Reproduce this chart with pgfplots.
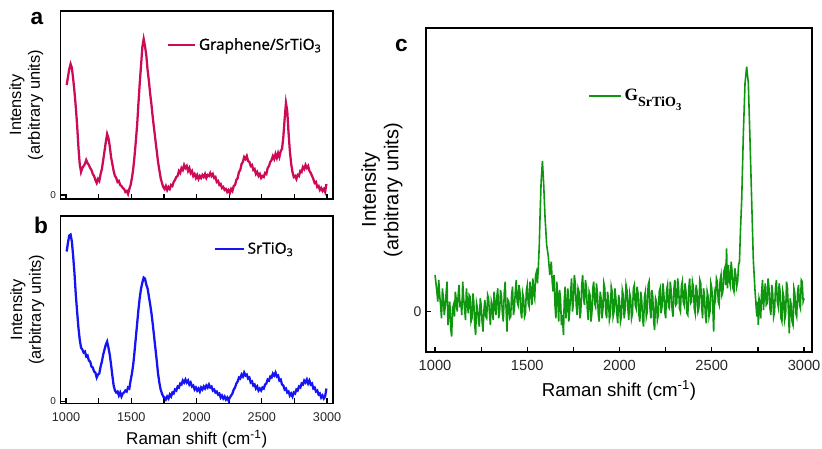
\documentclass[border=0pt]{standalone}
\usepackage{fontspec}
\setmainfont{Liberation Sans}
\newfontfamily\legfont[FakeBold=1]{Open Sans}
\newfontfamily\serifb{Liberation Serif}
\usepackage{pgfplots}
\pgfplotsset{compat=1.18}
\pgfplotsset{/pgf/number format/assume math mode=true}
\definecolor{cA}{RGB}{205,10,85}
\definecolor{cB}{RGB}{20,20,245}
\definecolor{cC}{RGB}{15,150,15}
\pgfplotsset{
  panel/.style={
    scale only axis, anchor=south west,
    tick pos=left, tick align=inside,
    major tick length=4pt, minor tick length=4pt,
    axis line style={line width=1.2pt},
    every tick/.style={line width=1pt,black},
    xtick={1000,1500,...,3000}, minor xtick={1250,1750,2250,2750},
    ytick={0},
    x tick label style={/pgf/number format/1000 sep={}, text=black!85, yshift=-3pt},
    y tick label style={text=black!85},
    ylabel style={align=center, anchor=south, inner sep=0pt},
    legend style={draw=none, fill=none, inner sep=0pt, anchor=west},
    legend cell align=left,
  }
}
\begin{document}
\begin{tikzpicture}
\useasboundingbox (0,0) rectangle (616.5pt,336.75pt);
% ---------------- panel a
\begin{axis}[panel,
  at={(45.4pt,187.5pt)}, width=204.4pt, height=141pt,
  xmin=958, xmax=3046, ymin=-4, ymax=184,
  xticklabels={},
  y tick label style={font=\fontsize{7.5}{8}\selectfont},
  ylabel={Intensity\\(arbitrary units)},
  ylabel style={font=\fontsize{12.3}{14}\selectfont, at={(axis description cs:-0.0625,0.5)}},
  legend style={at={(0.391,0.819)}, font=\legfont\fontsize{11.5}{12}\selectfont},
  legend image code/.code={\draw[#1] (0pt,0pt) -- (20pt,0pt);},
]
\addplot[cA, line width=1.7pt] coordinates {
(1005,110)(1015,118)(1025,126)(1035,131)(1045,127)(1055,116)(1065,103)(1075,88)(1085,70)(1095,48)
(1105,31)(1115,23)(1125,27)(1135,29)(1145,31)(1155,35)(1165,32)(1175,30)(1185,27)(1195,25)
(1205,21)(1215,19)(1225,15)(1235,12)(1245,16)(1255,14)(1265,21)(1275,26)(1285,35)(1295,44)
(1305,53)(1315,61)(1325,57)(1335,49)(1345,38)(1355,31)(1365,24)(1375,19)(1385,17)(1395,13)
(1405,14)(1415,10)(1425,9)(1435,7)(1445,6)(1455,3)(1465,4)(1475,1)(1485,6)(1495,10)
(1505,17)(1515,26)(1525,39)(1535,54)(1545,70)(1555,92)(1565,112)(1575,130)(1585,148)(1595,156)
(1605,149)(1615,140)(1625,125)(1635,114)(1645,101)(1655,90)(1665,77)(1675,66)(1685,55)(1695,44)
(1705,33)(1715,25)(1725,17)(1735,12)(1745,8)(1755,6)(1765,9)(1775,5)(1785,8)(1795,6)
(1805,10)(1815,9)(1825,13)(1835,15)(1845,18)(1855,19)(1865,24)(1875,22)(1885,27)(1895,25)
(1905,30)(1915,27)(1925,29)(1935,24)(1945,27)(1955,22)(1965,24)(1975,19)(1985,21)(1995,17)
(2005,20)(2015,16)(2025,19)(2035,17)(2045,20)(2055,18)(2065,21)(2075,17)(2085,20)(2095,19)
(2105,22)(2115,19)(2125,21)(2135,17)(2145,18)(2155,13)(2165,14)(2175,10)(2185,11)(2195,7)
(2205,8)(2215,5)(2225,6)(2235,3)(2245,5)(2255,2)(2265,6)(2275,4)(2285,9)(2295,10)
(2305,15)(2315,17)(2325,23)(2335,25)(2345,31)(2355,33)(2365,38)(2375,36)(2385,39)(2395,34)
(2405,33)(2415,29)(2425,30)(2435,25)(2445,26)(2455,21)(2465,23)(2475,19)(2485,21)(2495,17)
(2505,19)(2515,18)(2525,22)(2535,21)(2545,27)(2555,29)(2565,33)(2575,35)(2585,39)(2595,36)
(2605,41)(2615,37)(2625,42)(2635,38)(2645,44)(2655,46)(2665,58)(2675,76)(2685,92)(2695,84)
(2705,62)(2715,44)(2725,31)(2735,23)(2745,18)(2755,19)(2765,16)(2775,20)(2785,19)(2795,24)
(2805,23)(2815,28)(2825,26)(2835,30)(2845,27)(2855,29)(2865,24)(2875,22)(2885,19)(2895,16)
(2905,12)(2915,13)(2925,8)(2935,9)(2945,5)(2955,7)(2965,4)(2975,6)(2985,3)(2995,11)
};
\addlegendentry{Graphene/SrTiO\textsubscript{3}}
\end{axis}
% ---------------- panel b
\begin{axis}[panel,
  at={(45.4pt,34.1pt)}, width=204.4pt, height=140.6pt,
  xmin=958, xmax=3046, ymin=-2, ymax=185.5,
  x tick label style={font=\fontsize{9.5}{10}\selectfont},
  y tick label style={font=\fontsize{7.5}{8}\selectfont},
  xlabel={Raman shift (cm\textsuperscript{-1})},
  xlabel style={font=\fontsize{12.8}{14}\selectfont},
  ylabel={Intensity\\(arbitrary units)},
  ylabel style={font=\fontsize{12.3}{14}\selectfont, at={(axis description cs:-0.059,0.5)}},
  legend style={at={(0.56,0.824)}, font=\legfont\fontsize{11.5}{12}\selectfont},
  legend image code/.code={\draw[#1] (0pt,0pt) -- (22pt,0pt);},
]
\addplot[cB, line width=1.7pt] coordinates {
(1005,150)(1015,159)(1025,166)(1035,167)(1045,160)(1055,145)(1065,128)(1075,107)(1085,90)(1095,74)
(1105,62)(1115,54)(1125,52)(1135,49)(1145,50)(1155,45)(1165,46)(1175,41)(1185,40)(1195,35)
(1205,34)(1215,30)(1225,29)(1235,24)(1245,27)(1255,28)(1265,35)(1275,40)(1285,47)(1295,52)
(1305,57)(1315,60)(1325,54)(1335,47)(1345,37)(1355,26)(1365,16)(1375,11)(1385,9)(1395,10)
(1405,6)(1415,9)(1425,5)(1435,8)(1445,9)(1455,11)(1465,10)(1475,14)(1485,13)(1495,21)
(1505,28)(1515,37)(1525,50)(1535,64)(1545,78)(1555,92)(1565,104)(1575,113)(1585,119)(1595,124)
(1605,123)(1615,117)(1625,113)(1635,105)(1645,97)(1655,88)(1665,77)(1675,65)(1685,53)(1695,41)
(1705,28)(1715,19)(1725,12)(1735,8)(1745,5)(1755,4)(1765,2)(1775,5)(1785,3)(1795,7)
(1805,5)(1815,9)(1825,8)(1835,12)(1845,11)(1855,15)(1865,14)(1875,18)(1885,17)(1895,21)
(1905,19)(1915,22)(1925,19)(1935,21)(1945,17)(1955,19)(1965,15)(1975,16)(1985,12)(1995,14)
(2005,11)(2015,13)(2025,10)(2035,14)(2045,12)(2055,15)(2065,13)(2075,16)(2085,14)(2095,17)
(2105,14)(2115,15)(2125,11)(2135,12)(2145,9)(2155,10)(2165,7)(2175,8)(2185,4)(2195,6)
(2205,3)(2215,5)(2225,2)(2235,4)(2245,1)(2255,4)(2265,6)(2275,8)(2285,12)(2295,14)
(2305,18)(2315,20)(2325,24)(2335,23)(2345,27)(2355,25)(2365,29)(2375,26)(2385,27)(2395,23)
(2405,24)(2415,19)(2425,20)(2435,16)(2445,17)(2455,13)(2465,15)(2475,11)(2485,13)(2495,11)
(2505,14)(2515,13)(2525,17)(2535,18)(2545,22)(2555,21)(2565,25)(2575,24)(2585,28)(2595,26)
(2605,29)(2615,25)(2625,26)(2635,21)(2645,22)(2655,17)(2665,16)(2675,12)(2685,13)(2695,9)
(2705,10)(2715,6)(2725,8)(2735,5)(2745,9)(2755,8)(2765,12)(2775,11)(2785,15)(2795,14)
(2805,18)(2815,17)(2825,21)(2835,19)(2845,22)(2855,18)(2865,21)(2875,17)(2885,18)(2895,13)
(2905,14)(2915,10)(2925,11)(2935,7)(2945,8)(2955,4)(2965,6)(2975,3)(2985,5)(2995,13)
};
\addlegendentry{SrTiO\textsubscript{3}}
\end{axis}
% ---------------- panel c
\begin{axis}[panel,
  at={(319.5pt,72.75pt)}, width=289.5pt, height=243pt,
  xmin=951, xmax=3043, ymin=-121, ymax=851,
  x tick label style={font=\fontsize{11}{12}\selectfont},
  y tick label style={font=\fontsize{10.5}{11}\selectfont},
  xlabel={Raman shift (cm\textsuperscript{-1})},
  xlabel style={font=\fontsize{14}{15}\selectfont},
  ylabel={Intensity\\(arbitrary units)},
  ylabel style={font=\fontsize{15}{17}\selectfont, at={(axis description cs:-0.06,0.5)}},
  legend style={at={(0.42,0.79)}, font=\serifb\bfseries\fontsize{13}{14}\selectfont},
  legend image code/.code={\draw[#1] (0pt,0pt) -- (24pt,0pt);},
]
\addplot[cC, line width=1.2pt] coordinates {
(1000,110)(1005,85)(1010,60)(1015,30)(1020,95)(1025,50)(1030,20)(1035,-20)(1040,70)(1045,40)
(1050,-10)(1055,15)(1060,55)(1065,90)(1070,-40)(1075,-5)(1080,30)(1085,-50)(1090,-75)(1095,10)
(1100,20)(1105,-15)(1110,60)(1115,35)(1120,0)(1125,45)(1130,80)(1135,20)(1140,25)(1145,-10)
(1150,90)(1155,40)(1160,10)(1165,-25)(1170,70)(1175,30)(1180,-5)(1185,50)(1190,45)(1195,-30)
(1200,-20)(1205,55)(1210,30)(1215,-40)(1220,-70)(1225,25)(1230,10)(1235,-25)(1240,-45)(1245,40)
(1250,20)(1255,-30)(1260,-60)(1265,5)(1270,35)(1275,-15)(1280,-20)(1285,50)(1290,40)(1295,-5)
(1300,-40)(1305,30)(1310,15)(1315,-25)(1320,60)(1325,20)(1330,-10)(1335,45)(1340,70)(1345,-20)
(1350,0)(1355,65)(1360,45)(1365,-5)(1370,-30)(1375,55)(1380,90)(1385,10)(1390,-60)(1395,35)
(1400,30)(1405,-20)(1410,-15)(1415,50)(1420,75)(1425,-10)(1430,10)(1435,60)(1440,95)(1445,30)
(1450,20)(1455,80)(1460,60)(1465,0)(1470,-20)(1475,55)(1480,40)(1485,-15)(1490,-5)(1495,65)
(1500,80)(1505,25)(1510,15)(1515,90)(1520,60)(1525,20)(1530,100)(1535,55)(1540,40)(1545,110)
(1550,120)(1555,85)(1560,135)(1565,200)(1569,285)(1575,390)(1582,452)(1589,380)(1596,285)(1605,200)
(1614,165)(1622,110)(1630,150)(1635,90)(1640,60)(1645,110)(1650,20)(1655,-20)(1660,90)(1665,40)
(1670,-30)(1675,65)(1680,40)(1685,-40)(1690,-10)(1696,-70)(1700,30)(1705,75)(1710,-20)(1715,20)
(1720,70)(1725,-30)(1730,5)(1735,60)(1740,100)(1745,0)(1750,30)(1755,110)(1760,85)(1765,20)
(1770,-10)(1775,70)(1780,60)(1785,-20)(1790,0)(1795,80)(1800,110)(1805,40)(1810,20)(1815,95)
(1820,75)(1825,10)(1830,-25)(1835,60)(1840,50)(1845,-30)(1850,-5)(1855,70)(1860,90)(1865,25)
(1870,15)(1875,85)(1880,55)(1885,-10)(1890,-30)(1895,60)(1900,40)(1905,-20)(1910,10)(1915,85)
(1920,70)(1925,0)(1930,-20)(1935,60)(1940,35)(1945,-25)(1950,-10)(1955,75)(1960,60)(1965,-15)
(1970,0)(1975,70)(1980,40)(1985,-5)(1990,-35)(1995,50)(2000,30)(2005,-30)(2010,-15)(2015,65)
(2020,50)(2025,-20)(2030,5)(2035,80)(2040,65)(2045,10)(2050,-25)(2055,55)(2060,40)(2065,-20)
(2070,-5)(2075,70)(2080,80)(2085,20)(2090,10)(2095,75)(2100,55)(2105,-10)(2110,-30)(2115,60)
(2120,35)(2125,-20)(2130,-45)(2135,45)(2140,60)(2145,-15)(2150,0)(2155,80)(2160,90)(2165,10)
(2170,-20)(2175,65)(2180,45)(2185,-30)(2190,-55)(2195,40)(2200,30)(2205,-25)(2210,-10)(2215,60)
(2220,70)(2225,-5)(2230,15)(2235,85)(2240,55)(2245,0)(2250,-20)(2255,65)(2260,80)(2265,15)
(2270,10)(2275,90)(2280,60)(2285,5)(2290,-15)(2295,70)(2300,95)(2305,20)(2310,25)(2315,100)
(2320,70)(2325,10)(2330,0)(2335,75)(2340,90)(2345,30)(2350,20)(2355,85)(2360,60)(2365,-5)
(2370,-10)(2375,70)(2380,100)(2385,25)(2390,30)(2395,90)(2400,75)(2405,10)(2410,-5)(2415,80)
(2420,60)(2425,0)(2430,10)(2435,95)(2440,85)(2445,15)(2450,-20)(2455,70)(2460,50)(2465,-10)
(2470,-35)(2475,60)(2480,45)(2485,-15)(2490,0)(2495,85)(2500,70)(2505,20)(2510,-60)(2515,55)
(2520,40)(2525,100)(2530,90)(2535,30)(2540,20)(2545,95)(2550,110)(2555,50)(2560,60)(2565,120)
(2570,130)(2575,80)(2580,190)(2585,70)(2590,140)(2595,95)(2600,80)(2605,150)(2610,120)(2615,70)
(2620,60)(2625,130)(2630,110)(2635,75)(2640,90)(2645,140)(2650,150)(2655,240)(2662,335)(2671,535)
(2680,685)(2689,735)(2698,685)(2707,515)(2716,335)(2725,155)(2734,65)(2744,-15)(2748,30)(2752,-40)
(2756,40)(2760,30)(2765,-20)(2770,60)(2775,95)(2780,5)(2785,50)(2790,85)(2795,20)(2800,25)
(2805,100)(2810,70)(2815,10)(2820,-10)(2825,80)(2830,55)(2835,-15)(2840,0)(2845,70)(2850,95)
(2855,30)(2860,15)(2865,85)(2870,60)(2875,-20)(2880,-30)(2885,60)(2890,45)(2895,-25)(2900,-10)
(2905,90)(2910,70)(2915,5)(2920,-65)(2925,40)(2930,20)(2935,-30)(2940,-40)(2945,70)(2950,55)
(2955,-5)(2960,-15)(2965,60)(2970,80)(2975,20)(2980,10)(2985,95)(2990,90)(2995,30)(3000,40)
};
\addlegendentry{G\raisebox{-0.35em}{\fontsize{10.5}{10.5}\selectfont SrTiO\raisebox{-0.25em}{\fontsize{8}{8}\selectfont 3}}}
\end{axis}
\node[font=\fontsize{17}{17}\selectfont\bfseries] at (27.75pt,322.5pt) {a};
\node[font=\fontsize{17}{17}\selectfont\bfseries] at (30.75pt,168pt) {b};
\node[font=\fontsize{17}{17}\selectfont\bfseries] at (301.1pt,302.6pt) {c};
\end{tikzpicture}
\end{document}
